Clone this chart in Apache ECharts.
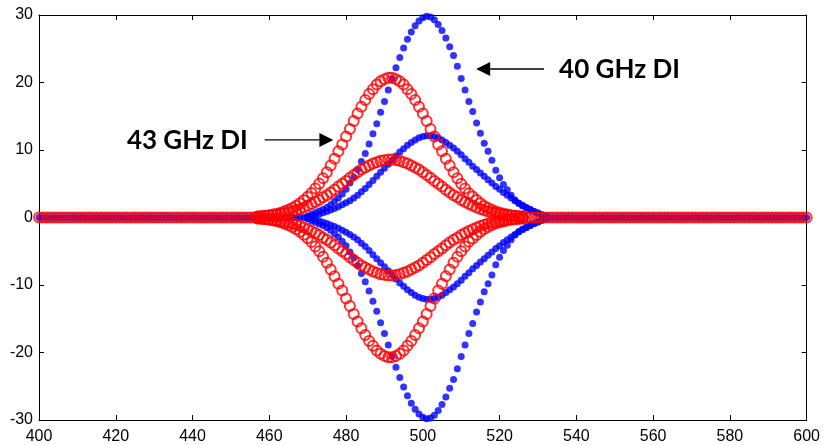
<!DOCTYPE html>
<html>
<head>
<meta charset="utf-8">
<script src="https://cdn.jsdelivr.net/npm/echarts@6/dist/echarts.min.js"></script>
<style>html,body{margin:0;padding:0;background:#fff}#c{width:823px;height:445px}</style>
</head>
<body>
<div id="c"></div>
<script>
// Axis ranges and tick labels
const xRange = [400, 600];
const xTickStep = 20;
const yRange = [-30, 30];
const yTickStep = 10;
const sampleStep = 1;

// 40 GHz DI (blue dots): samples from x = 470 to 532, step 1
const blueStart = 470;
const blueOuterUpper = [0.2,0.5,0.7,0.95,1.2,1.5,1.9,2.4,2.9,3.5,
  4.2,5.1,6.0,7.1,8.3,9.5,10.9,12.4,13.9,15.6,
  17.2,18.9,20.6,22.2,23.7,25.1,26.4,27.5,28.4,29.1,
  29.6,29.8,29.7,29.3,28.6,27.7,26.6,25.3,24.0,22.4,
  20.6,18.9,17.2,15.7,14.0,12.5,11.0,9.8,8.5,7.0,
  5.9,4.9,4.1,3.3,2.6,2.1,1.7,1.4,1.2,0.9,
  0.7,0.4,0.2];
const blueOuterLower = [-0.2,-0.5,-0.7,-0.95,-1.2,-1.5,-1.9,-2.4,-2.9,-3.5,
  -4.2,-5.1,-6.0,-7.1,-8.3,-9.5,-10.9,-12.4,-13.9,-15.6,
  -17.2,-18.9,-20.6,-22.2,-23.7,-25.1,-26.4,-27.5,-28.4,-29.1,
  -29.6,-29.8,-29.7,-29.3,-28.6,-27.7,-26.6,-25.3,-24.0,-22.4,
  -20.6,-18.9,-17.2,-15.7,-14.0,-12.5,-11.0,-9.8,-8.5,-7.0,
  -5.9,-4.9,-4.1,-3.3,-2.6,-2.1,-1.7,-1.4,-1.2,-0.9,
  -0.7,-0.4,-0.2];
const blueInnerUpper = [0.1,0.2,0.35,0.5,0.7,0.9,1.1,1.35,1.6,1.9,
  2.2,2.5,2.9,3.3,3.8,4.3,4.9,5.5,6.1,6.7,
  7.3,7.9,8.5,9.1,9.7,10.2,10.7,11.1,11.5,11.8,
  12.0,12.1,12.1,12.0,11.8,11.5,11.1,10.7,10.3,9.8,
  9.3,8.7,8.2,7.6,7.1,6.6,6.1,5.6,5.1,4.6,
  4.2,3.7,3.3,2.9,2.5,2.1,1.8,1.5,1.2,0.9,
  0.6,0.4,0.2];
const blueInnerLower = [-0.1,-0.2,-0.35,-0.5,-0.7,-0.9,-1.1,-1.35,-1.6,-1.9,
  -2.2,-2.5,-2.9,-3.3,-3.8,-4.3,-4.9,-5.5,-6.1,-6.7,
  -7.3,-7.9,-8.5,-9.1,-9.7,-10.2,-10.7,-11.1,-11.5,-11.8,
  -12.0,-12.1,-12.1,-12.0,-11.8,-11.5,-11.1,-10.7,-10.3,-9.8,
  -9.3,-8.7,-8.2,-7.6,-7.1,-6.6,-6.1,-5.6,-5.1,-4.6,
  -4.2,-3.7,-3.3,-2.9,-2.5,-2.1,-1.8,-1.5,-1.2,-0.9,
  -0.6,-0.4,-0.2];

// 43 GHz DI (red circles): samples from x = 457 to 526, step 1
const redStart = 457;
const redOuterUpper = [0.15,0.2,0.26,0.34,0.45,0.57,0.72,0.91,1.14,1.41,
  1.74,2.11,2.56,3.06,3.64,4.3,5.0,5.8,6.7,7.7,
  8.7,9.8,10.8,12.0,13.1,14.3,15.4,16.4,17.4,18.3,
  19.0,19.7,20.2,20.5,20.7,20.7,20.5,20.2,19.7,19.0,
  18.3,17.4,16.4,15.4,14.3,13.1,12.0,10.8,9.8,8.7,
  7.7,6.7,5.8,5.0,4.3,3.6,3.1,2.6,2.1,1.7,
  1.4,1.1,0.9,0.7,0.6,0.45,0.34,0.26,0.2,0.15];
const redOuterLower = [-0.15,-0.2,-0.26,-0.34,-0.45,-0.57,-0.72,-0.91,-1.14,-1.41,
  -1.74,-2.11,-2.56,-3.06,-3.64,-4.3,-5.0,-5.8,-6.7,-7.7,
  -8.7,-9.8,-10.8,-12.0,-13.1,-14.3,-15.4,-16.4,-17.4,-18.3,
  -19.0,-19.7,-20.2,-20.5,-20.7,-20.7,-20.5,-20.2,-19.7,-19.0,
  -18.3,-17.4,-16.4,-15.4,-14.3,-13.1,-12.0,-10.8,-9.8,-8.7,
  -7.7,-6.7,-5.8,-5.0,-4.3,-3.6,-3.1,-2.6,-2.1,-1.7,
  -1.4,-1.1,-0.9,-0.7,-0.6,-0.45,-0.34,-0.26,-0.2,-0.15];
const redInnerUpper = [0.14,0.17,0.22,0.27,0.34,0.42,0.51,0.62,0.75,0.9,
  1.07,1.26,1.48,1.73,2.0,2.3,2.6,3.0,3.3,3.7,
  4.1,4.6,5.0,5.4,5.9,6.3,6.7,7.1,7.4,7.7,
  8.0,8.2,8.4,8.5,8.6,8.6,8.5,8.4,8.2,8.0,
  7.7,7.4,7.1,6.7,6.3,5.9,5.4,5.0,4.6,4.1,
  3.7,3.3,3.0,2.6,2.3,2.0,1.73,1.48,1.26,1.07,
  0.9,0.75,0.62,0.51,0.42,0.34,0.27,0.22,0.17,0.14];
const redInnerLower = [-0.14,-0.17,-0.22,-0.27,-0.34,-0.42,-0.51,-0.62,-0.75,-0.9,
  -1.07,-1.26,-1.48,-1.73,-2.0,-2.3,-2.6,-3.0,-3.3,-3.7,
  -4.1,-4.6,-5.0,-5.4,-5.9,-6.3,-6.7,-7.1,-7.4,-7.7,
  -8.0,-8.2,-8.4,-8.5,-8.6,-8.6,-8.5,-8.4,-8.2,-8.0,
  -7.7,-7.4,-7.1,-6.7,-6.3,-5.9,-5.4,-5.0,-4.6,-4.1,
  -3.7,-3.3,-3.0,-2.6,-2.3,-2.0,-1.73,-1.48,-1.26,-1.07,
  -0.9,-0.75,-0.62,-0.51,-0.42,-0.34,-0.27,-0.22,-0.17,-0.14];

// Flat (zero) level outside each pulse
const baselineY = 0;

// Annotations (data coordinates)
const annotations = [
  { text: '40 GHz DI', textAt: [535.5, 22.0], arrowFrom: [531.6, 22.0], arrowTo: [513.9, 22.0] },
  { text: '43 GHz DI', textAt: [422.9, 11.5], arrowFrom: [458.8, 11.5], arrowTo: [476.7, 11.5] }
];

function pulse(start, values) {
  return values.map((v, i) => [start + i * sampleStep, v]);
}
function baseline(start, len) {
  const pts = [];
  const end = start + (len - 1) * sampleStep;
  for (let x = xRange[0]; x <= xRange[1]; x += sampleStep) {
    if (x < start || x > end) pts.push([x, baselineY]);
  }
  return pts;
}

const blueStyle = { symbol: 'circle', symbolSize: 7, itemStyle: { color: '#0000ff' } };
const redStyle = { symbol: 'circle', symbolSize: 10,
  itemStyle: { color: 'rgba(0,0,0,0)', borderColor: '#ff0000', borderWidth: 2 } };

function sc(data, style, name) {
  return Object.assign({ type: 'scatter', name: name, data: data, silent: true, animation: false, clip: false }, style);
}

const series = [
  sc(baseline(blueStart, blueOuterUpper.length), blueStyle, '40 GHz DI'),
  sc(pulse(blueStart, blueOuterUpper), blueStyle, '40 GHz DI'),
  sc(pulse(blueStart, blueOuterLower), blueStyle, '40 GHz DI'),
  sc(pulse(blueStart, blueInnerUpper), blueStyle, '40 GHz DI'),
  sc(pulse(blueStart, blueInnerLower), blueStyle, '40 GHz DI'),
  sc(baseline(redStart, redOuterUpper.length), redStyle, '43 GHz DI'),
  sc(pulse(redStart, redOuterUpper), redStyle, '43 GHz DI'),
  sc(pulse(redStart, redOuterLower), redStyle, '43 GHz DI'),
  sc(pulse(redStart, redInnerUpper), redStyle, '43 GHz DI'),
  sc(pulse(redStart, redInnerLower), redStyle, '43 GHz DI')
];

const labelFont = { color: '#000', fontSize: 16, fontFamily: 'Liberation Sans, Arial, sans-serif' };
const lineStyle = { color: '#000', width: 1 };

const chart = echarts.init(document.getElementById('c'), null, { renderer: 'canvas' });
chart.setOption({
  animation: false,
  backgroundColor: '#fff',
  grid: { left: 39, right: 15, top: 15, bottom: 25, containLabel: false },
  xAxis: [
    { type: 'value', min: xRange[0], max: xRange[1], interval: xTickStep, position: 'bottom',
      axisLine: { show: true, onZero: false, lineStyle: lineStyle },
      axisTick: { show: true, inside: true, length: 5, lineStyle: lineStyle },
      axisLabel: Object.assign({ margin: 9 }, labelFont),
      splitLine: { show: false } },
    { type: 'value', min: xRange[0], max: xRange[1], interval: xTickStep, position: 'top',
      axisLine: { show: true, onZero: false, lineStyle: lineStyle },
      axisTick: { show: true, inside: true, length: 5, lineStyle: lineStyle },
      axisLabel: { show: false }, splitLine: { show: false } }
  ],
  yAxis: [
    { type: 'value', min: yRange[0], max: yRange[1], interval: yTickStep, position: 'left',
      axisLine: { show: true, onZero: false, lineStyle: lineStyle },
      axisTick: { show: true, inside: true, length: 5, lineStyle: lineStyle },
      axisLabel: Object.assign({ margin: 6 }, labelFont),
      splitLine: { show: false } },
    { type: 'value', min: yRange[0], max: yRange[1], interval: yTickStep, position: 'right',
      axisLine: { show: true, onZero: false, lineStyle: lineStyle },
      axisTick: { show: true, inside: true, length: 5, lineStyle: lineStyle },
      axisLabel: { show: false }, splitLine: { show: false } }
  ],
  series: series
});

// Annotations: text and arrows placed through the chart's own coordinate conversion
const graphics = [];
annotations.forEach(a => {
  const t = chart.convertToPixel({ gridIndex: 0 }, a.textAt);
  const p0 = chart.convertToPixel({ gridIndex: 0 }, a.arrowFrom);
  const p1 = chart.convertToPixel({ gridIndex: 0 }, a.arrowTo);
  const dir = Math.sign(p1[0] - p0[0]);
  const headLen = 14, headHalf = 7;
  graphics.push({ type: 'line', silent: true,
    shape: { x1: p0[0], y1: p0[1], x2: p1[0] - dir * headLen, y2: p1[1] },
    style: { stroke: '#000', lineWidth: 1.4 } });
  graphics.push({ type: 'polygon', silent: true,
    shape: { points: [[p1[0], p1[1]], [p1[0] - dir * headLen, p1[1] - headHalf], [p1[0] - dir * headLen, p1[1] + headHalf]] },
    style: { fill: '#000' } });
  graphics.push({ type: 'text', silent: true, x: t[0], y: t[1] + 1,
    style: { text: a.text, fill: '#000', font: 'bold 26px Lato, "Open Sans", sans-serif',
      textAlign: 'left', textVerticalAlign: 'middle', verticalAlign: 'middle' } });
});
chart.setOption({ graphic: graphics });
</script>
</body>
</html>
